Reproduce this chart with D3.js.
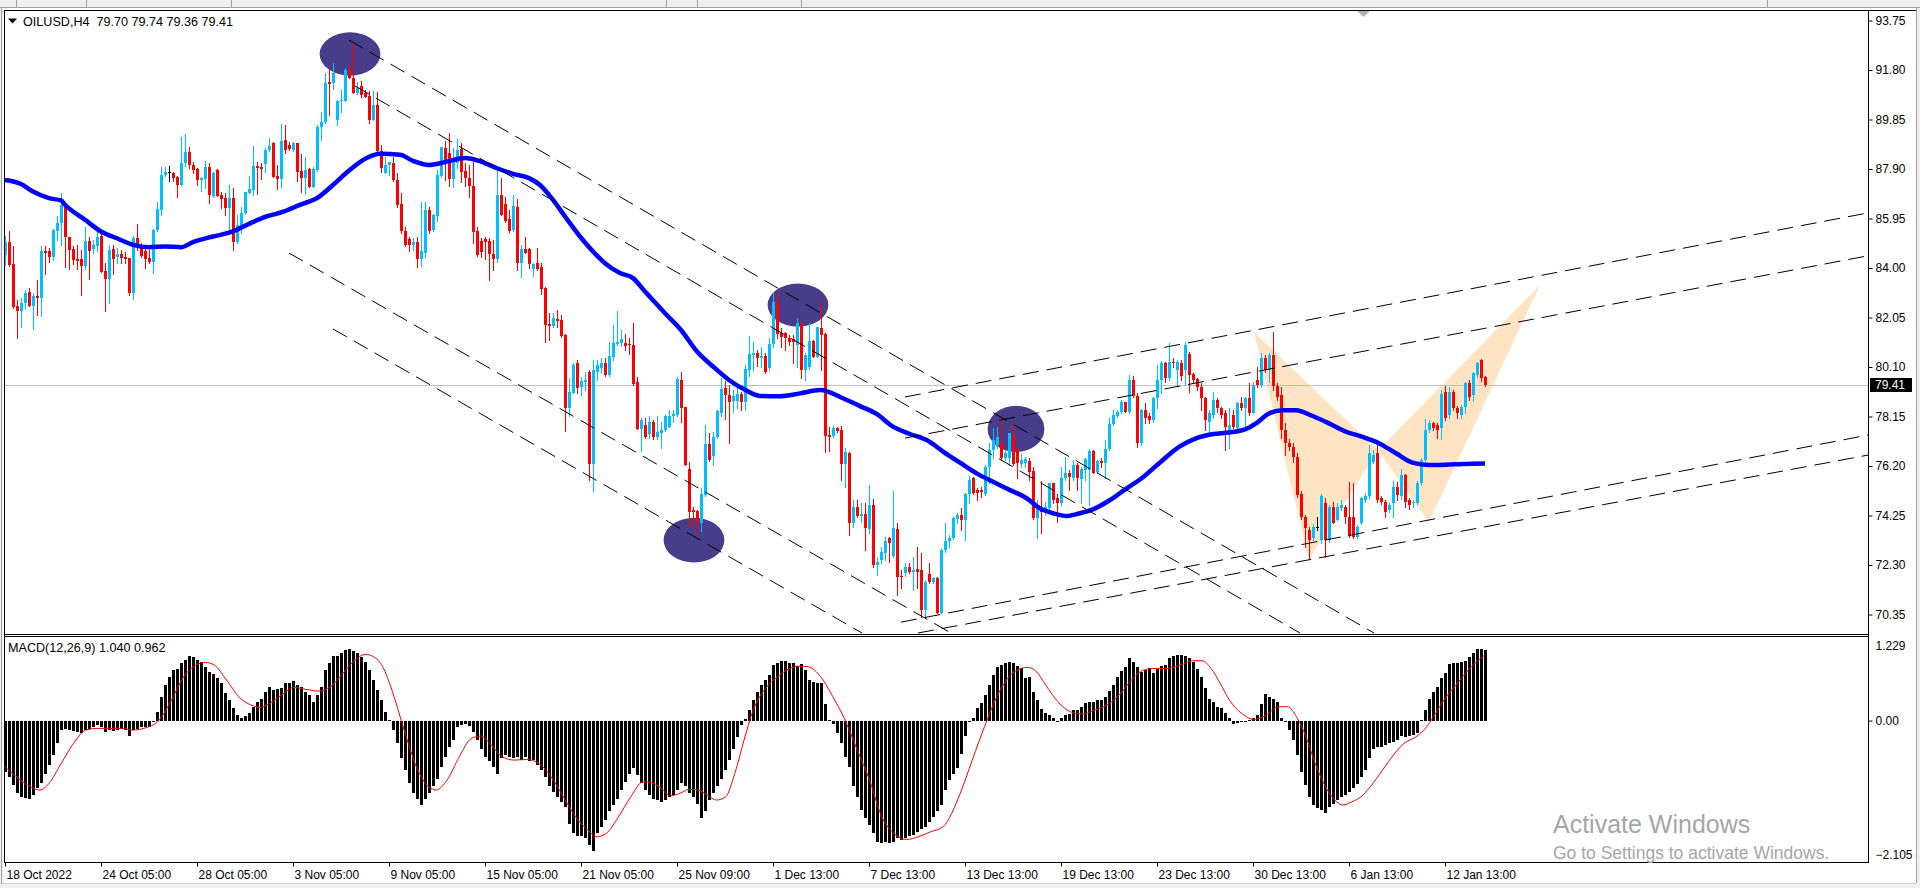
<!DOCTYPE html>
<html><head><meta charset="utf-8">
<script src="https://cdn.jsdelivr.net/npm/d3@7/dist/d3.min.js"></script>
<style>
html,body{margin:0;padding:0;background:#fff;overflow:hidden}
svg text{font-family:"Liberation Sans",Arial,sans-serif;font-size:12px;fill:#000}
</style></head><body>
<svg id="c" width="1920" height="888"></svg>
<script>
const symbolTitle = "OILUSD,H4  79.70 79.74 79.36 79.41";
const macdTitle = "MACD(12,26,9) 1.040 0.962";
const timeLabels = ["18 Oct 2022","24 Oct 05:00","28 Oct 05:00","3 Nov 05:00","9 Nov 05:00","15 Nov 05:00","21 Nov 05:00","25 Nov 09:00","1 Dec 13:00","7 Dec 13:00","13 Dec 13:00","19 Dec 13:00","23 Dec 13:00","30 Dec 13:00","6 Jan 13:00","12 Jan 13:00"];
const timeLabelBars = [0,24,48,72,96,120,144,168,192,216,240,264,288,312,336,360];
const priceTicks = [93.75,91.80,89.85,87.90,85.95,84.00,82.05,80.10,78.15,76.20,74.25,72.30,70.35];
const macdTicks = [1.229,0,-2.105];
const lastPrice = 79.41;

const opens = [84.52,85.04,84.16,82.51,82.29,82.61,83.05,82.51,82.88,82.80,
84.67,84.65,84.45,85.44,85.76,86.46,85.24,84.75,84.35,84.35,
84.06,85.07,84.74,84.85,85.28,83.90,83.56,84.74,84.43,84.56,
84.45,84.41,83.01,85.17,84.85,84.65,84.41,84.22,85.48,86.29,
87.67,87.77,87.76,87.60,87.27,88.13,88.57,88.06,87.91,87.45,
87.52,87.96,86.85,87.87,86.88,86.75,86.38,86.75,85.04,85.63,
86.16,86.95,87.08,88.00,87.96,88.10,88.63,88.92,87.64,87.51,
89.05,88.85,88.65,88.92,87.83,87.56,87.89,87.21,87.87,89.57,
89.74,91.31,91.28,89.83,90.56,90.56,91.80,91.48,90.89,91.15,
90.89,90.79,89.83,90.43,88.59,87.74,88.06,88.13,87.47,86.53,
85.46,85.15,84.91,85.02,84.35,84.61,86.29,85.48,86.03,87.63,
88.72,88.52,87.50,88.13,88.68,87.83,87.56,87.24,85.44,85.08,
85.15,85.07,84.56,84.35,86.88,86.53,85.92,85.50,86.42,84.19,
84.75,84.74,83.97,84.19,84.02,83.20,81.80,81.72,82.00,81.96,
81.37,78.50,79.09,80.25,79.31,79.50,79.92,76.29,79.92,80.05,
80.25,79.79,80.51,81.01,81.04,81.04,81.01,80.97,79.49,77.65,
77.82,77.47,77.95,77.34,77.49,77.60,77.75,78.15,78.21,79.59,
78.52,76.07,74.47,74.41,73.97,75.06,77.06,76.60,77.34,78.28,
79.27,79.00,78.78,78.78,79.04,78.74,79.99,80.58,80.67,80.44,
80.53,80.07,81.01,82.67,81.43,81.43,81.25,81.20,80.97,81.82,
79.98,80.09,81.12,80.51,81.65,81.40,77.42,77.39,77.71,77.62,
76.28,76.72,73.94,74.60,74.23,74.30,73.72,74.66,72.30,72.50,
72.79,73.35,72.65,73.72,71.88,71.97,72.23,72.04,72.13,72.10,
70.53,71.95,71.64,71.77,70.42,72.89,73.26,73.35,74.10,74.27,
74.07,75.08,75.71,75.25,75.25,75.10,76.17,76.83,77.03,77.16,
76.50,76.50,77.42,76.83,76.28,76.31,76.40,76.00,74.14,74.53,
74.47,74.53,75.52,74.93,74.73,75.71,75.94,75.71,76.24,75.69,
76.04,76.04,76.79,75.98,76.40,76.31,76.87,77.85,78.18,78.34,
78.73,78.34,79.59,78.96,77.09,78.40,78.17,78.01,78.86,79.60,
80.25,79.68,80.31,80.00,80.27,79.98,80.60,79.81,79.61,79.32,
78.86,77.94,78.21,78.80,78.47,78.27,77.62,78.20,77.68,78.67,
78.47,78.86,78.27,79.59,79.39,80.44,79.98,80.57,79.35,79.00,
77.60,77.10,76.96,76.57,75.10,74.20,73.68,73.35,73.78,73.28,
74.73,73.28,74.60,74.07,74.53,74.60,74.20,74.20,73.41,73.94,
74.86,75.02,76.37,76.70,74.92,74.79,74.47,74.73,75.39,75.02,
75.85,74.86,74.73,74.75,75.52,76.44,77.62,77.88,77.81,77.68,
79.13,78.21,79.13,78.47,78.21,78.54,79.45,78.99,79.78,80.37,
79.70];

const highs = [85.27,85.46,84.85,82.74,82.81,83.14,83.23,83.01,83.53,84.85,
84.87,84.78,85.54,86.03,86.95,86.55,85.24,84.85,84.91,84.71,
85.63,85.24,85.11,85.54,85.33,84.19,84.91,84.91,84.78,84.71,
84.62,84.41,85.28,85.73,84.98,84.78,84.71,85.54,86.59,87.96,
87.96,88.02,87.80,87.64,89.15,89.28,88.75,88.19,87.93,87.60,
88.22,88.13,87.80,87.91,87.01,86.95,87.25,87.14,86.09,86.42,
87.01,87.63,88.81,88.17,88.13,88.72,89.11,88.98,88.06,89.66,
89.64,88.96,88.98,88.92,88.48,88.39,87.93,87.96,89.64,90.16,
91.67,91.80,92.07,90.62,91.02,91.87,92.00,92.88,91.32,91.37,
91.02,90.98,90.98,90.92,88.85,88.39,88.19,88.39,87.76,86.95,
85.63,85.24,85.17,85.24,86.59,86.59,86.42,86.12,87.87,88.78,
89.01,89.31,88.72,89.07,88.92,88.13,88.06,88.19,85.61,85.17,
85.21,85.17,85.11,87.89,87.56,86.78,86.29,86.88,86.72,84.91,
85.21,84.78,84.19,84.78,84.19,83.24,82.22,82.22,82.35,82.15,
81.39,79.66,80.25,80.38,79.72,79.92,79.99,80.38,80.38,80.45,
80.45,81.10,81.76,82.29,81.56,81.41,81.23,81.85,79.72,78.11,
78.08,78.15,78.02,78.15,77.95,78.21,78.41,78.41,79.69,79.92,
78.54,76.35,74.60,74.47,75.33,77.82,77.49,77.52,78.41,79.66,
79.53,79.40,79.20,79.46,79.13,80.18,81.33,81.10,80.78,80.90,
80.64,81.23,83.00,83.07,81.62,81.49,81.36,81.36,82.02,81.88,
80.64,81.82,81.16,81.69,82.67,81.43,77.75,77.79,77.75,77.79,
76.90,76.76,74.86,74.86,74.73,74.73,75.45,74.89,72.63,73.02,
73.42,73.42,75.21,73.94,72.10,72.37,72.37,72.63,73.02,72.79,
71.71,72.37,71.84,71.81,72.92,73.94,73.48,74.20,74.34,74.53,
75.12,75.81,75.78,75.32,75.39,76.24,77.09,77.68,77.75,78.01,
76.83,77.49,77.81,76.96,76.67,76.54,76.50,76.17,74.86,75.62,
74.79,75.52,75.52,75.10,76.17,76.57,76.04,76.44,76.31,76.17,
76.50,76.87,76.83,76.44,76.50,77.22,78.08,78.41,78.41,78.80,
78.73,79.78,79.75,79.06,78.45,78.67,78.27,78.93,80.18,80.35,
80.30,81.03,80.44,80.37,80.37,81.10,80.70,79.85,79.68,79.45,
78.90,78.40,79.13,78.86,78.54,78.40,78.47,78.40,78.73,78.93,
78.93,79.45,79.52,80.11,80.64,80.57,80.64,81.49,79.45,79.30,
77.88,77.25,77.09,76.70,75.20,74.27,73.80,73.90,74.20,75.10,
74.92,74.66,74.79,74.73,74.86,74.66,75.58,75.52,73.87,74.99,
75.15,77.02,76.85,77.16,75.00,74.86,74.75,75.60,75.55,76.10,
75.90,74.95,74.86,75.60,76.50,78.05,78.00,77.95,77.88,79.20,
79.35,79.30,79.20,78.55,78.60,79.50,79.58,79.90,80.28,80.40,
79.74];

const lows = [84.12,84.06,82.42,81.23,81.66,82.42,82.52,81.59,82.13,82.11,
83.76,84.23,84.32,85.11,84.91,84.02,83.95,84.15,83.95,82.92,
83.95,83.57,84.61,84.65,83.86,82.32,82.61,83.76,84.19,84.19,
84.19,82.94,82.77,84.71,84.45,83.99,84.19,83.80,85.46,86.09,
87.64,87.43,87.41,86.81,87.27,88.00,87.93,87.74,87.27,87.05,
87.14,86.55,86.81,86.85,86.36,86.09,85.50,84.71,84.98,85.37,
86.13,86.95,86.88,86.91,87.51,87.80,88.59,87.58,87.12,87.21,
88.55,88.63,88.59,87.43,86.99,86.91,87.21,87.21,87.84,89.05,
89.73,90.01,91.04,89.64,90.16,90.56,91.48,90.89,90.86,90.75,
90.75,89.70,89.83,88.59,87.80,87.74,87.67,87.41,86.39,85.37,
84.85,84.65,84.71,84.02,84.08,84.45,85.37,85.46,85.87,87.60,
87.47,87.24,87.21,87.93,87.37,87.24,86.78,85.00,84.48,84.45,
84.36,83.51,83.93,84.23,86.07,85.83,85.41,85.46,83.93,83.64,
84.58,83.99,83.69,83.93,82.97,81.10,81.17,81.69,81.69,81.30,
77.56,78.15,79.07,79.07,79.00,79.20,75.65,75.23,79.59,79.86,
79.75,79.75,80.38,80.97,80.91,80.78,80.62,79.40,77.65,76.81,
77.30,77.30,77.26,77.26,76.90,77.56,77.73,77.95,78.15,77.95,
76.22,73.82,73.82,73.55,73.62,75.02,76.40,76.25,77.30,78.15,
78.06,77.10,78.31,78.48,78.41,78.41,79.73,79.99,80.12,80.11,
79.85,79.98,80.90,81.23,80.90,80.77,80.97,80.24,80.11,79.65,
79.59,80.01,80.48,80.48,79.98,76.76,76.80,77.36,77.55,75.65,
75.39,73.48,73.81,74.20,74.01,72.89,73.55,72.23,71.91,72.37,
72.50,72.43,72.63,71.12,71.38,71.87,71.97,71.32,71.38,70.27,
70.20,71.58,71.58,70.40,70.40,72.83,73.02,73.31,73.94,73.68,
73.28,74.73,75.10,74.86,74.99,75.06,75.52,76.50,76.90,76.44,
76.44,76.24,76.24,75.71,76.17,76.17,75.65,74.10,73.35,73.55,
74.27,74.34,74.73,74.01,74.66,75.65,75.25,75.65,75.25,74.73,
75.65,74.66,75.91,75.91,76.17,75.71,76.83,77.81,78.14,78.27,
78.34,78.27,78.93,76.96,77.02,77.88,77.88,77.95,78.47,79.06,
79.50,79.60,80.11,79.39,79.60,79.39,79.13,79.45,79.19,78.40,
77.62,77.48,78.08,78.34,78.08,76.83,76.89,77.68,77.62,78.40,
77.75,78.21,78.27,79.32,79.32,79.91,79.50,79.20,78.80,77.30,
76.63,76.85,76.37,74.99,74.10,73.00,72.55,73.28,73.68,73.15,
72.63,73.22,73.94,74.07,74.47,73.94,73.41,73.35,73.35,73.90,
74.80,74.95,76.30,74.79,74.70,74.20,74.40,74.20,74.86,74.90,
74.60,74.50,74.60,74.70,75.45,76.40,77.55,77.60,77.30,77.25,
78.00,78.10,78.40,78.10,78.10,78.30,78.80,78.75,79.70,79.55,
79.36];

const closes = [85.04,84.12,82.48,82.29,82.61,83.01,82.52,82.88,82.80,84.67,
84.58,84.43,85.48,85.76,86.49,85.21,84.71,84.32,84.29,84.06,
85.07,84.67,84.91,85.24,83.86,83.56,84.71,84.37,84.56,84.39,
84.37,83.01,85.17,84.82,84.49,84.36,84.22,85.50,86.32,87.67,
87.77,87.77,87.56,87.27,88.13,88.57,88.04,87.87,87.45,87.54,
87.96,86.88,87.74,86.85,86.72,86.38,86.75,85.04,85.70,86.16,
86.99,87.12,88.00,87.94,87.90,88.65,88.82,87.60,87.51,89.01,
88.63,88.68,88.92,87.80,87.56,87.87,87.21,87.91,89.57,89.74,
91.28,91.25,91.67,90.56,90.60,91.80,91.48,90.89,91.11,90.82,
90.75,89.83,90.43,88.59,87.93,88.06,88.16,87.45,86.49,85.44,
84.91,84.91,85.04,84.35,84.67,86.29,85.44,86.07,87.67,88.75,
88.19,87.50,88.16,88.63,87.80,87.54,87.24,85.40,84.52,84.62,
85.04,84.56,84.35,86.88,86.09,85.86,85.44,86.45,84.19,84.75,
84.61,84.16,84.16,83.97,83.18,81.76,81.72,82.02,81.93,81.33,
78.50,79.13,80.18,79.29,79.53,79.57,76.29,79.99,80.18,80.25,
79.79,80.54,81.06,81.10,81.20,80.93,80.97,79.42,77.66,78.02,
77.36,77.95,77.36,77.52,77.62,78.15,78.18,78.25,79.62,78.48,
76.25,74.37,74.37,73.97,75.10,77.06,76.42,77.34,78.35,79.24,
79.00,78.74,78.94,79.04,78.74,80.01,80.62,80.67,80.45,80.53,
79.92,81.01,82.67,81.39,81.29,81.23,81.10,81.07,81.82,79.98,
80.57,81.12,80.51,81.66,81.36,77.39,77.36,77.68,77.59,76.28,
76.74,73.94,74.57,74.23,74.31,73.74,74.66,72.30,72.43,72.83,
73.26,73.15,73.74,71.84,71.81,72.23,72.04,72.10,72.04,70.53,
71.62,71.64,71.77,70.40,72.89,73.26,73.35,74.14,74.27,74.07,
75.08,75.65,75.12,75.15,75.19,76.17,76.83,77.22,77.36,76.50,
76.70,77.49,76.28,76.31,76.44,76.46,75.98,74.14,74.60,74.40,
74.60,75.52,74.86,74.73,75.71,75.94,75.78,76.24,75.71,76.07,
76.46,76.80,75.94,76.40,76.31,76.87,77.85,78.21,78.34,78.73,
78.34,79.59,78.96,77.09,78.40,78.10,78.01,78.86,79.60,80.25,
79.68,80.30,80.24,80.31,79.75,80.95,79.78,79.59,79.30,78.86,
78.01,78.27,78.80,78.47,78.21,77.75,77.81,77.75,78.67,78.47,
78.86,78.27,79.39,79.39,80.44,79.98,80.57,79.35,78.90,77.60,
77.10,76.93,76.57,75.06,74.20,73.74,73.28,73.81,73.78,75.02,
73.28,74.60,73.94,74.60,74.66,74.20,73.45,73.41,73.81,74.92,
75.02,76.70,76.63,74.86,74.79,74.40,74.66,75.39,75.06,75.85,
74.79,74.66,74.79,75.52,76.44,77.62,77.88,77.68,77.62,79.05,
78.08,79.13,78.47,78.27,78.54,79.45,78.93,79.85,80.24,79.65,
79.41];

const maBars = [0,4,7,11,14,15,20,24,28,32,36,40,44,47,52,57,61.25,65.4,69.6,73.75,78,82,86.25,90.4,93.75,98.75,102,106,110,115,119,123,127,131,133.75,137,140,143.75,147,150,153.75,157,160,165,169,173,177,181,185,188.75,193.75,198.75,203.75,209.6,213.75,217.9,222,226.25,230.4,234.6,238.75,242.9,247,251.25,255.4,258.75,262,265.4,268.75,272,276.25,280.4,283.75,289.4,293.6,297.75,302,306,310,312.75,316,319.4,322.75,326.9,331,335.25,339.4,343.6,347.75,351.9,356,360.25,364.4,370];
const maValues = [87.47,87.31,87.01,86.75,86.66,86.49,85.90,85.44,85.17,84.91,84.82,84.85,84.82,85.02,85.24,85.44,85.76,86.03,86.22,86.49,86.75,87.27,87.87,88.33,88.50,88.46,88.22,88.06,88.17,88.33,88.19,87.93,87.71,87.54,87.27,86.68,86.03,85.24,84.65,84.19,83.80,83.60,83.07,82.22,81.56,80.71,80.12,79.59,79.20,78.96,78.95,79.06,79.19,78.86,78.56,78.25,77.75,77.46,77.22,76.76,76.33,75.91,75.58,75.25,74.93,74.53,74.34,74.23,74.34,74.49,74.86,75.32,75.67,76.43,76.96,77.29,77.46,77.52,77.64,77.88,78.27,78.40,78.40,78.17,77.88,77.55,77.35,77.09,76.70,76.33,76.24,76.25,76.28,76.30];

const macdHist = [-0.84,-0.92,-1.06,-1.19,-1.25,-1.27,-1.28,-1.22,-1.11,-1.03,
-0.87,-0.73,-0.57,-0.37,-0.16,-0.13,-0.16,-0.17,-0.18,-0.20,
-0.16,-0.13,-0.10,-0.07,-0.10,-0.18,-0.16,-0.17,-0.16,-0.14,
-0.16,-0.25,-0.16,-0.14,-0.11,-0.11,-0.10,-0.01,0.14,0.39,
0.58,0.72,0.83,0.84,0.94,1.00,1.06,1.05,1.00,0.96,
0.88,0.80,0.77,0.69,0.61,0.45,0.34,0.20,0.09,0.04,
0.07,0.12,0.23,0.31,0.36,0.47,0.55,0.50,0.51,0.54,
0.61,0.62,0.65,0.58,0.55,0.47,0.42,0.31,0.42,0.55,
0.83,0.94,1.06,1.06,1.11,1.16,1.17,1.14,1.11,1.05,
0.96,0.83,0.66,0.50,0.34,0.14,0.01,-0.16,-0.37,-0.62,
-0.81,-1.03,-1.19,-1.28,-1.39,-1.28,-1.19,-1.08,-0.95,-0.76,
-0.59,-0.43,-0.32,-0.10,-0.07,-0.05,-0.09,-0.18,-0.32,-0.46,
-0.59,-0.67,-0.76,-0.87,-0.62,-0.57,-0.59,-0.62,-0.59,-0.65,
-0.59,-0.67,-0.65,-0.73,-0.81,-0.92,-1.08,-1.17,-1.25,-1.33,
-1.41,-1.69,-1.85,-1.90,-1.90,-1.92,-2.04,-2.14,-1.85,-1.74,
-1.63,-1.49,-1.39,-1.28,-1.14,-1.00,-0.87,-0.78,-0.89,-1.03,
-1.14,-1.22,-1.28,-1.30,-1.33,-1.30,-1.25,-1.22,-1.14,-1.03,
-1.08,-1.19,-1.25,-1.36,-1.60,-1.49,-1.30,-1.19,-1.08,-0.95,
-0.81,-0.65,-0.46,-0.27,-0.07,0.02,0.17,0.34,0.47,0.58,
0.66,0.75,0.91,0.95,0.98,0.98,0.95,0.94,0.89,0.92,
0.83,0.66,0.64,0.62,0.61,0.27,0.01,-0.05,-0.21,-0.37,
-0.59,-0.76,-1.08,-1.25,-1.47,-1.60,-1.71,-1.85,-1.99,-2.01,
-1.99,-2.01,-1.99,-1.93,-1.96,-1.93,-1.90,-1.88,-1.82,-1.77,
-1.74,-1.66,-1.58,-1.49,-1.39,-1.14,-0.98,-0.87,-0.78,-0.55,
-0.25,-0.02,0.05,0.20,0.28,0.42,0.58,0.75,0.88,0.91,
0.94,0.96,0.94,0.89,0.86,0.69,0.72,0.47,0.33,0.19,
0.12,0.09,0.05,-0.01,0.05,0.09,0.11,0.18,0.18,0.23,
0.29,0.31,0.31,0.34,0.33,0.39,0.49,0.58,0.72,0.81,
0.88,1.02,0.96,0.88,0.80,0.83,0.86,0.78,0.84,0.89,
0.91,1.02,1.06,1.07,1.07,1.06,1.02,0.96,0.84,0.72,
0.53,0.36,0.31,0.22,0.20,0.12,0.04,-0.05,-0.04,-0.02,
0.00,0.01,0.05,0.09,0.27,0.43,0.39,0.36,0.31,0.04,
0.00,-0.16,-0.32,-0.57,-0.84,-1.06,-1.25,-1.39,-1.44,-1.47,
-1.51,-1.41,-1.36,-1.30,-1.25,-1.22,-1.17,-1.11,-1.04,-0.92,
-0.81,-0.62,-0.46,-0.43,-0.43,-0.40,-0.37,-0.35,-0.32,-0.25,
-0.27,-0.25,-0.24,-0.21,0.01,0.18,0.36,0.47,0.55,0.69,
0.78,0.93,0.94,0.95,0.96,0.98,1.04,1.10,1.18,1.18,
1.16];

const signalBars = [0,3.34,6.40,8.70,11.0,14.06,17.12,20.18,23.24,29.37,31.67,35.49,38.55,41.62,44.68,47.74,50.04,52.33,55.39,58.46,61.52,63.81,66.11,69.17,72.23,75.30,78.36,81.42,84.48,87.54,90.15,92.14,94.43,96.73,99.79,102.85,105.92,107.75,110.51,113.57,116.63,118.93,121.22,124.29,127.35,130.41,133.47,136.53,139.60,142.66,145.72,148.02,150.31,153.37,156.44,159.50,161.79,164.09,166.39,168.68,170.98,173.27,175.57,177.87,180.16,182.46,184.76,187.05,190.12,193.18,196.24,198.54,200.83,203.90,206.96,210.02,213.08,216.14,219.20,222.27,225.33,228.39,231.45,234.51,238.80,241.81,244.87,247.94,251.00,254.06,255.59,257.89,260.18,263.24,266.31,269.37,272.43,275.49,278.55,281.62,284.68,287.74,290.80,293.86,296.93,299.22,301.52,303.81,306.11,309.17,312.23,315.30,318.36,320.65,322.95,325.25,327.54,330.61,332.90,334.43,336.73,339.02,341.32,344.38,347.44,349.74,352.80,355.10,357.40,359.69,362.75,365.81,368.88,369.95];
const signalValues = [-0.757,-0.948,-1.085,-1.139,-1.030,-0.702,-0.374,-0.156,-0.128,-0.128,-0.156,-0.112,0.008,0.336,0.719,0.910,0.954,0.910,0.664,0.391,0.254,0.216,0.281,0.418,0.544,0.511,0.484,0.555,0.773,0.992,1.085,1.046,0.883,0.500,-0.156,-0.757,-1.085,-1.139,-0.975,-0.593,-0.292,-0.254,-0.374,-0.593,-0.648,-0.637,-0.702,-0.921,-1.249,-1.577,-1.795,-1.904,-1.850,-1.577,-1.249,-1.003,-1.019,-1.112,-1.232,-1.194,-1.128,-1.139,-1.221,-1.303,-1.249,-0.866,-0.320,0.172,0.527,0.719,0.855,0.893,0.883,0.719,0.391,0.008,-0.484,-0.975,-1.577,-1.850,-1.948,-1.904,-1.822,-1.740,-1.194,-0.648,-0.101,0.391,0.719,0.855,0.872,0.801,0.582,0.309,0.145,0.107,0.172,0.254,0.418,0.664,0.828,0.855,0.855,0.910,0.981,0.981,0.855,0.609,0.336,0.117,0.019,0.090,0.227,0.227,0.052,-0.265,-0.702,-1.139,-1.331,-1.385,-1.331,-1.249,-1.085,-0.811,-0.538,-0.374,-0.265,-0.128,0.090,0.336,0.582,0.828,1.019,1.074];

// drawn objects, in chart coordinates (bar index, price)
const channelStartBar = [86, 87.5, 71, 82, 225, 225, 224, 228.25];
const channelStartPrice = [92.98, 91.17, 84.59, 81.60, 78.92, 77.30, 70.05, 69.62];
const channelEndBar = [342.25, 323.75, 236.5, 214.25, 465.75, 465.75, 465.75, 465.75];
const channelEndPrice = [69.62, 69.62, 69.62, 69.62, 86.17, 84.48, 77.42, 76.63];
const ellipseBar = [86.25, 198.25, 252.75, 172.25];
const ellipsePrice = [92.43, 82.54, 77.66, 73.28];
const ellipseHalfBars = [7.6, 7.6, 7.1, 7.6];
const ellipseHalfPrice = [0.855, 0.85, 0.91, 0.88];
const patternBars = [312.25, 326, 343.25, 356, 383.75];
const patternPrices = [81.48, 72.53, 76.82, 73.99, 83.33];

const svg = d3.select("#c");
const L = 4, R = 1868, T = 10, MB = 634, MT = 637, BB = 862;

const x = d3.scaleLinear().domain([0, 370]).range([5, 1485]);
const y = d3.scaleLinear().domain([70.35, 93.75]).range([614.5, 20.5]);
const yM = d3.scaleLinear().domain([-2.105, 1.229]).range([849, 645.6]);

// frame backgrounds
svg.append("rect").attr("x",0).attr("y",0).attr("width",1920).attr("height",888).attr("fill","#fff");
svg.append("rect").attr("x",0).attr("y",0).attr("width",1920).attr("height",7).attr("fill","#f0f0f0");
svg.append("line").attr("x1",0).attr("x2",1920).attr("y1",7.5).attr("y2",7.5).attr("stroke","#a0a0a0");
[16,86,231,666,697,801,1767].forEach(v=>svg.append("line").attr("x1",v+0.5).attr("x2",v+0.5).attr("y1",0).attr("y2",7).attr("stroke","#a0a0a0"));
svg.append("rect").attr("x",0).attr("y",10).attr("width",3).attr("height",878).attr("fill","#f0f0f0");
svg.append("line").attr("x1",1.5).attr("x2",1.5).attr("y1",8).attr("y2",888).attr("stroke","#a0a0a0");
svg.append("rect").attr("x",0).attr("y",883).attr("width",1920).attr("height",5).attr("fill","#f0f0f0");
svg.append("line").attr("x1",0).attr("x2",1920).attr("y1",883.5).attr("y2",883.5).attr("stroke","#d0d0d0");
svg.append("rect").attr("x",1916).attr("y",8).attr("width",4).attr("height",880).attr("fill","#f0f0f0");
svg.append("line").attr("x1",1916.5).attr("x2",1916.5).attr("y1",8).attr("y2",883).attr("stroke","#a0a0a0");

const defs = svg.append("defs");
defs.append("clipPath").attr("id","mainClip").append("rect").attr("x",L+1).attr("y",T+1).attr("width",R-L-1).attr("height",MB-T-1);
defs.append("clipPath").attr("id","macdClip").append("rect").attr("x",L+1).attr("y",MT+1).attr("width",R-L-1).attr("height",BB-MT-1);

const main = svg.append("g").attr("clip-path","url(#mainClip)");

// harmonic pattern triangles
[[0,1,2],[2,3,4]].forEach(tri=>{
  main.append("polygon")
    .attr("points", tri.map(k=>x(patternBars[k])+","+y(patternPrices[k])).join(" "))
    .attr("fill","#ffe4c4");
});
// ellipses
ellipseBar.forEach((b,k)=>{
  main.append("ellipse")
    .attr("cx", x(b)).attr("cy", y(ellipsePrice[k]))
    .attr("rx", x(b+ellipseHalfBars[k]) - x(b))
    .attr("ry", y(ellipsePrice[k]) - y(ellipsePrice[k]+ellipseHalfPrice[k]))
    .attr("fill","#483d8b");
});
// bid line
main.append("line").attr("x1",L).attr("x2",R).attr("y1",Math.round(y(lastPrice))+0.5).attr("y2",Math.round(y(lastPrice))+0.5).attr("stroke","#c0c0c0");

// candles
const cg = main.append("g");
opens.forEach((o,i)=>{
  const c = closes[i], h = highs[i], l = lows[i];
  const col = c > o ? "#00bfff" : (c < o ? "#ff0000" : "#000000");
  const px = Math.round(x(i));
  const yh = Math.round(y(h)), yl = Math.round(y(l));
  cg.append("rect").attr("x",px).attr("y",yh).attr("width",1).attr("height",Math.max(1,yl-yh+1)).attr("fill",col);
  const yt = Math.round(y(Math.max(o,c))), yb = Math.round(y(Math.min(o,c)));
  cg.append("rect").attr("x",px-1).attr("y",yt).attr("width",3).attr("height",Math.max(1,yb-yt)).attr("fill",col);
});

// moving average
const maLine = d3.line().x(d=>x(d[0])).y(d=>y(d[1])).curve(d3.curveMonotoneX);
main.append("path").attr("d", maLine(d3.zip(maBars, maValues)))
  .attr("fill","none").attr("stroke","#0000ff").attr("stroke-width",4.5).attr("stroke-linejoin","round");

// channel lines
channelStartBar.forEach((b,k)=>{
  main.append("line")
    .attr("x1", x(b)).attr("y1", y(channelStartPrice[k]))
    .attr("x2", x(channelEndBar[k])).attr("y2", y(channelEndPrice[k]))
    .attr("stroke","#000").attr("stroke-width",1).attr("stroke-dasharray","16,8");
});

// MACD panel
const mg = svg.append("g").attr("clip-path","url(#macdClip)");
const y0 = Math.round(yM(0));
macdHist.forEach((v,i)=>{
  const px = Math.round(x(i));
  const yv = Math.round(yM(v));
  mg.append("rect").attr("x",px-1).attr("y",Math.min(y0,yv)).attr("width",3).attr("height",Math.max(1,Math.abs(yv-y0))).attr("fill","#000");
});
const sigLine = d3.line().x(d=>x(d[0])).y(d=>yM(d[1])).curve(d3.curveMonotoneX);
mg.append("path").attr("d", sigLine(d3.zip(signalBars, signalValues)))
  .attr("fill","none").attr("stroke","#ff0000").attr("stroke-width",1);

// borders
const bc = "#000";
svg.append("line").attr("x1",L).attr("x2",1916).attr("y1",T+0.5).attr("y2",T+0.5).attr("stroke",bc);
svg.append("line").attr("x1",L+0.5).attr("x2",L+0.5).attr("y1",T).attr("y2",BB+1).attr("stroke",bc);
svg.append("line").attr("x1",R+0.5).attr("x2",R+0.5).attr("y1",T).attr("y2",BB+1).attr("stroke",bc);
svg.append("line").attr("x1",L).attr("x2",R+1).attr("y1",MB+0.5).attr("y2",MB+0.5).attr("stroke",bc);
svg.append("line").attr("x1",L).attr("x2",R+1).attr("y1",MT-0.5).attr("y2",MT-0.5).attr("stroke",bc);

// price axis
const pa = svg.append("g").attr("transform",`translate(${R+0.5},0)`)
  .call(d3.axisRight(y).tickValues(priceTicks).tickSize(4).tickPadding(3).tickFormat(d3.format(".2f")));
pa.select(".domain").remove();
pa.selectAll("line").attr("stroke","#000");

// last price box
const lpY = y(lastPrice);
svg.append("rect").attr("x",R+2).attr("y",Math.round(lpY)-7).attr("width",42).attr("height",14).attr("fill","#000");
svg.append("text").attr("x",R+7).attr("y",lpY).attr("dy","0.35em").style("fill","#fff").text(d3.format(".2f")(lastPrice));

// MACD axis
const ma = svg.append("g").attr("transform",`translate(${R+0.5},0)`)
  .call(d3.axisRight(yM).tickValues(macdTicks).tickSize(4).tickPadding(3).tickFormat(d=> d===0 ? "0.00" : d3.format(".3f")(d)));
ma.select(".domain").remove();
ma.selectAll("line").attr("stroke","#000");
ma.selectAll("g.tick").filter(d=>d<0).select("text").attr("dy","0.8em");
ma.selectAll("g.tick").filter(d=>d<0).select("line").remove();
ma.selectAll("g.tick").filter(d=>d>0).select("line").remove();

// time axis
const ta = svg.append("g").attr("transform",`translate(0,${BB+0.5})`)
  .call(d3.axisBottom(x).tickValues(timeLabelBars).tickSize(4).tickFormat((d,i)=>timeLabels[i]));
ta.select(".domain").attr("d",`M${L},0H${R+1}`).attr("stroke","#000");
ta.selectAll("line").attr("stroke","#000");
ta.selectAll("text").attr("text-anchor","start").attr("x",1).attr("y",16).attr("dy","0");

// titles
svg.append("polygon").attr("points","8,18.5 17,18.5 12.5,23.5").attr("fill","#000");
svg.append("text").attr("x",23).attr("y",26).style("font-size","12.6px").style("white-space","pre").text(symbolTitle);
svg.append("text").attr("x",8).attr("y",652).style("font-size","12.6px").text(macdTitle);

// shift marker
svg.append("polygon").attr("points","1357,11 1370,11 1363.5,17").attr("fill","#b4b4b4");

// watermark
svg.append("text").attr("x",1553).attr("y",833).style("font-size","25px").style("fill","#a6a6a6").text("Activate Windows");
svg.append("text").attr("x",1553).attr("y",859).style("font-size","17.5px").style("fill","#a6a6a6").text("Go to Settings to activate Windows.");
</script>
</body></html>
